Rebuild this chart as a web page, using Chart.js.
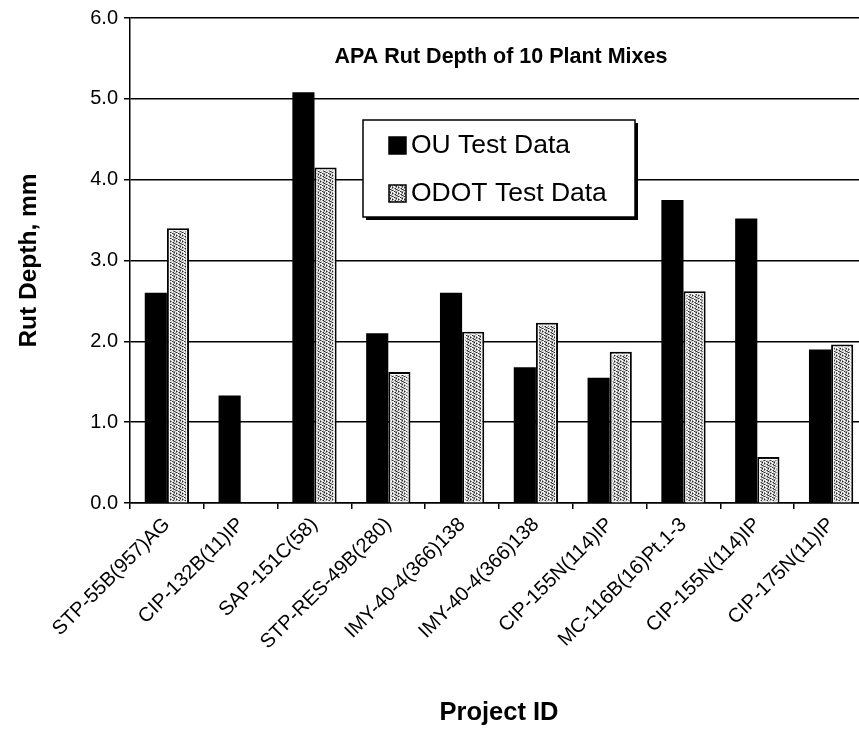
<!DOCTYPE html>
<html>
<head>
<meta charset="utf-8">
<script src="https://cdn.jsdelivr.net/npm/chart.js@4"></script>
<style>
  html, body { margin:0; padding:0; background:#fff; overflow:hidden; }
  #wrap { width:880px; height:729px; position:relative; }
</style>
</head>
<body>
<div id="wrap"><canvas id="c" width="880" height="729"></canvas></div>
<script>
const categories = ["STP-55B(957)AG","CIP-132B(11)IP","SAP-151C(58)","STP-RES-49B(280)","IMY-40-4(366)138","IMY-40-4(366)138","CIP-155N(114)IP","MC-116B(16)Pt.1-3","CIP-155N(114)IP","CIP-175N(11)IP"];
const ouValues = [2.6, 1.33, 5.08, 2.1, 2.6, 1.68, 1.55, 3.75, 3.52, 1.9];
const odotValues = [3.4, null, 4.15, 1.62, 2.12, 2.23, 1.87, 2.62, 0.57, 1.96];
const yTicks = [0, 1, 2, 3, 4, 5, 6];
const chartTitle = "APA Rut Depth of 10 Plant Mixes";
const seriesNames = ["OU Test Data", "ODOT Test Data"];

const FONT = "Arial, 'Liberation Sans', sans-serif";

// stipple pattern (fixed pixel map)
function makePattern() {
  const p = document.createElement('canvas');
  p.width = 6; p.height = 6;
  const g = p.getContext('2d');
  const map = [
    "kwgwwg",
    "gwkgwl",
    "wlgwgk",
    "kgwlwg",
    "wgkgwl",
    "glwwkg"
  ];
  for (let y=0;y<6;y++) for (let x=0;x<6;x++) {
    const ch = map[y][x];
    g.fillStyle = ch==='k' ? '#2a2a2a' : ch==='w' ? '#f4f4f4' : ch==='l' ? '#c8c8c8' : '#8e8e8e';
    g.fillRect(x,y,1,1);
  }
  return document.getElementById('c').getContext('2d').createPattern(p,'repeat');
}
const stipple = makePattern();

const titlePlugin = {
  id: 'innerTitle',
  afterDatasetsDraw(chart) {
    const {ctx, chartArea} = chart;
    ctx.save();
    ctx.font = "bold 21.5px " + FONT;
    ctx.fillStyle = '#000';
    ctx.textAlign = 'center';
    ctx.textBaseline = 'middle';
    ctx.fillText(chartTitle, 501, chartArea.top + 39);
    ctx.restore();
  }
};

const innerWhitePlugin = {
  id: 'innerWhite',
  afterDatasetsDraw(chart) {
    const {ctx} = chart;
    const meta = chart.getDatasetMeta(1);
    ctx.save();
    ctx.strokeStyle = '#fff';
    ctx.lineWidth = 1;
    meta.data.forEach((el, i) => {
      if (odotValues[i] == null) return;
      const w = el.width, l = el.x - w/2, t = el.y, b = el.base;
      ctx.strokeRect(l + 2.5, t + 2.5, w - 5, b - t - 3);
    });
    ctx.restore();
  }
};

const legendPlugin = {
  id: 'boxLegend',
  afterDraw(chart) {
    const {ctx} = chart;
    const L = 363, T = 120, R = 635, B = 217;
    ctx.save();
    ctx.fillStyle = '#000';
    ctx.fillRect(L + 3, T + 3, R - L, B - T);
    ctx.fillStyle = '#fff';
    ctx.fillRect(L, T, R - L, B - T);
    ctx.strokeStyle = '#000';
    ctx.lineWidth = 1.5;
    ctx.strokeRect(L, T, R - L, B - T);
    const ds = chart.data.datasets;
    const rows = [145, 193];
    ctx.font = "26.5px " + FONT;
    ctx.textBaseline = 'middle';
    ds.forEach((d, i) => {
      const y = rows[i];
      ctx.fillStyle = d.backgroundColor;
      ctx.fillRect(389, y - 8, 17, 17);
      ctx.strokeStyle = '#000';
      ctx.lineWidth = 1.5;
      ctx.strokeRect(389, y - 8, 17, 17);
      ctx.fillStyle = '#000';
      ctx.fillText(d.label, 411, y + 1);
    });
    ctx.restore();
  }
};

new Chart(document.getElementById('c'), {
  type: 'bar',
  data: {
    labels: categories,
    datasets: [
      { label: seriesNames[0], data: ouValues, backgroundColor: '#000', borderWidth: 0,
        categoryPercentage: 0.6, barPercentage: 1.0 },
      { label: seriesNames[1], data: odotValues, backgroundColor: stipple, borderColor: '#000', borderWidth: 2,
        borderSkipped: 'bottom', categoryPercentage: 0.6, barPercentage: 1.0 }
    ]
  },
  options: {
    responsive: false,
    animation: false,
    layout: { padding: { left: 0, top: 17, right: 12, bottom: 0 } },
    plugins: {
      legend: { display: false },
      tooltip: { enabled: false },
      title: { display: false }
    },
    scales: {
      x: {
        offset: true,
        grid: { display: true, drawOnChartArea: false, drawTicks: true, tickLength: 6, color: '#000', lineWidth: 1.5, offset: true },
        border: { display: true, color: '#000', width: 1.5 },
        ticks: { color: '#000', font: { family: FONT, size: 20 }, minRotation: 45, maxRotation: 45, padding: 4, autoSkip: false },
        title: { display: true, text: 'Project ID', color: '#000', font: { family: FONT, size: 25.5, weight: 'bold' }, padding: { top: 4, bottom: 1 } },
        afterFit(scale) { scale.height = 226; }
      },
      y: {
        min: 0, max: 6,
        afterBuildTicks(scale) { scale.ticks = yTicks.map(v => ({ value: v })); },
        grid: { color: '#000', lineWidth: 1.5, tickLength: 6 },
        border: { display: true, color: '#000', width: 1.5 },
        ticks: { color: '#000', font: { family: FONT, size: 20 }, padding: 6, callback: v => Number(v).toFixed(1) },
        title: { display: true, text: 'Rut Depth, mm', color: '#000', font: { family: FONT, size: 24.5, weight: 'bold' }, padding: { top: 15, bottom: 4 } },
        afterFit(scale) { scale.width = 130; }
      }
    }
  },
  plugins: [innerWhitePlugin, titlePlugin, legendPlugin]
});
</script>
</body>
</html>
